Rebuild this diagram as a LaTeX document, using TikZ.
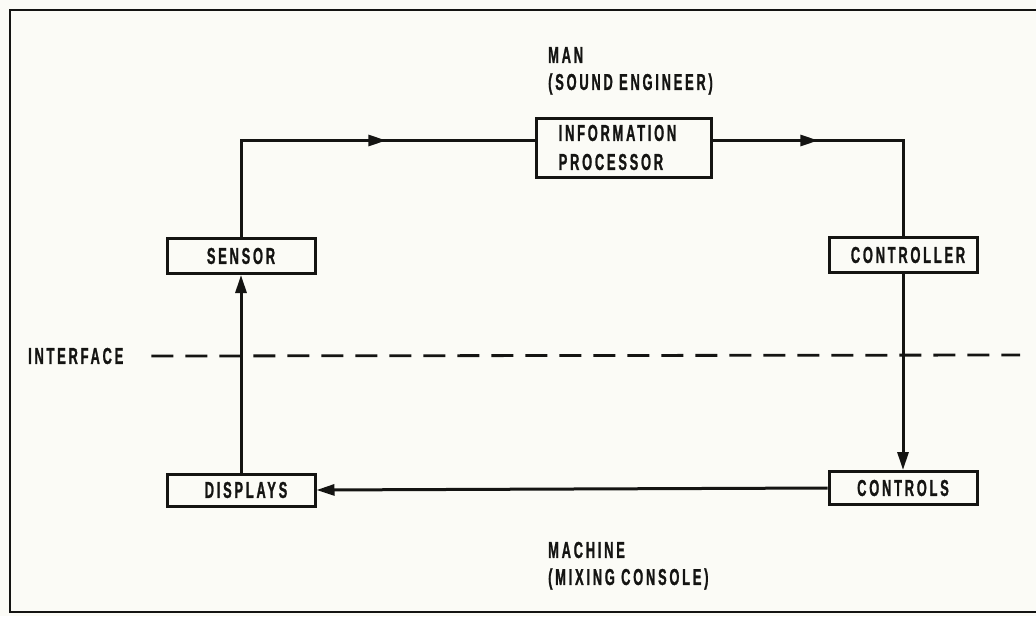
\documentclass[tikz,border=0pt]{standalone}
\usepackage{fontspec}
\usepackage{tikz}
\usetikzlibrary{positioning,arrows.meta,decorations.markings}
\newfontfamily\stencilfont{Liberation Sans}[FakeStretch=0.56,LetterSpace=12,FakeBold=1]
\definecolor{paper}{RGB}{251,251,246}
\definecolor{ink}{RGB}{20,20,18}
\tikzset{
  blk/.style   ={draw=ink, fill=paper, line width=3pt, minimum width=148pt,
                 minimum height=35pt, inner sep=0pt, font=\lbl, text=ink},
  lbl/.style   ={font=\lbl, text=ink, inner sep=0pt},
  ar/.style    ={-{Triangle[length=18pt,width=11pt]}, draw=ink, line width=3pt},
  ln/.style    ={draw=ink, line width=3pt},
  midar/.style ={ln, postaction={decorate}, decoration={markings,
                 mark=at position #1 with {\arrow{Triangle[length=18pt,width=11pt]}}}},
  iface/.style ={draw=ink, line width=2.8pt, dash pattern=on 22pt off 12pt},
}
\newcommand{\lbl}{\stencilfont\bfseries\fontsize{23}{29}\selectfont}

\begin{document}
\begin{tikzpicture}[x=1pt,y=-1pt]
\path[use as bounding box, fill=paper] (0,0) rectangle (1036,616);
\draw[ink, line width=2.2pt] (1036,10) -- (10,10) -- (10,612) -- (1036,612);

\node[blk] (sensor) at (241,256) {SENSOR};
\node[blk,minimum width=175pt,minimum height=59pt,align=left] (info) at (623.5,147.5)
  {\hspace*{-12pt}INFORMATION\\\hspace*{-12pt}PROCESSOR};
\node[blk] (ctrl) at (903,255) {\hspace*{10pt}CONTROLLER};
\node[blk,minimum height=32pt] (disp) at (241,490) {\hspace*{10pt}DISPLAYS};
\node[blk,minimum height=33pt] (controls) at (903,488) {CONTROLS};

\node[lbl,anchor=west] (man) at (548,55) {MAN};
\node[lbl,anchor=west] (eng) at (548,84) {(SOUND ENGINEER)};
\node[lbl,anchor=west] (mach) at (548,550) {MACHINE};
\node[lbl,anchor=west] (cons) at (548,579) {(MIXING CONSOLE)};
\node[lbl,anchor=west] (ifl) at (28,356) {INTERFACE};
\coordinate (ifend) at (1020,355);

\draw[midar=0.62] (sensor.north) |- ([yshift=7pt]info.west);
\draw[midar=0.37] ([yshift=7pt]info.east) -| (ctrl.north);
\draw[ar] (ctrl.south) -- (controls.north);
\draw[ar] (controls.west) -- (disp.east);
\draw[ar] (disp.north) -- (sensor.south);
\draw[iface] ([xshift=28pt]ifl.east) -- (ifend);
\end{tikzpicture}
\end{document}
